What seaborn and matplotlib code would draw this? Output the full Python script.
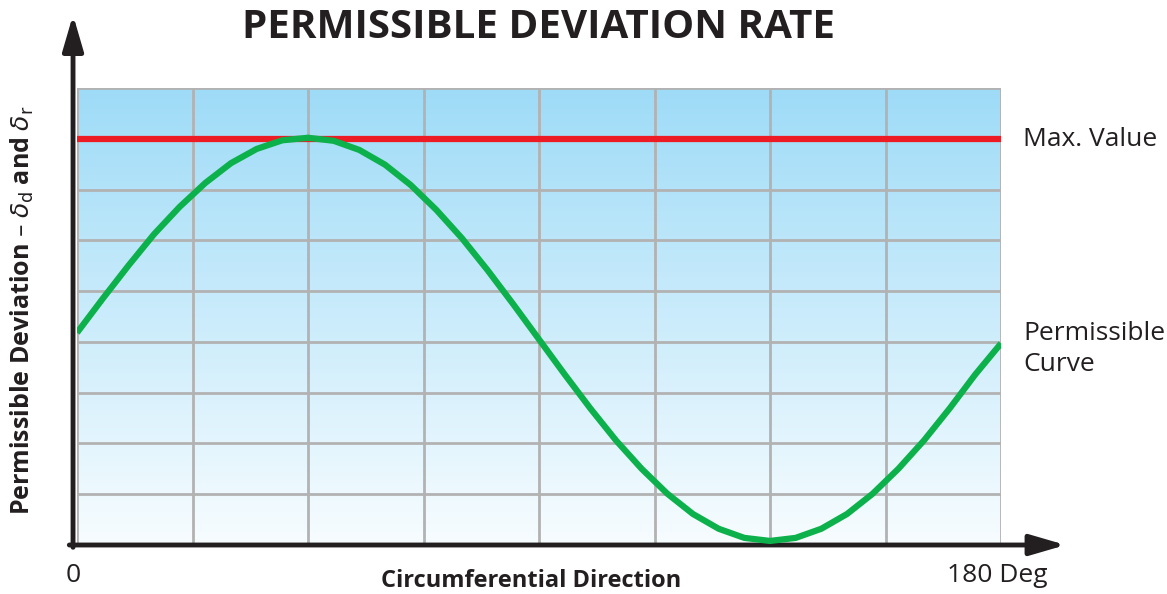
import numpy as np
import pandas as pd
import matplotlib.pyplot as plt
import seaborn as sns

# Values (x in degrees, y in grid units)
angle_deg = [0, 5, 10, 15, 20, 25, 30, 35, 40, 45, 50, 55, 60, 65, 70, 75, 80, 85, 90,
             95, 100, 105, 110, 115, 120, 125, 130, 135, 140, 145, 150, 155, 160, 165,
             170, 175, 180]
permissible = [4.18, 4.85, 5.50, 6.12, 6.66, 7.13, 7.52, 7.80, 7.97, 8.02, 7.96, 7.78,
               7.49, 7.09, 6.60, 6.04, 5.41, 4.74, 4.05, 3.36, 2.69, 2.06, 1.50, 1.01,
               0.61, 0.32, 0.14, 0.08, 0.14, 0.32, 0.61, 1.01, 1.50, 2.06, 2.69, 3.36,
               3.97]
max_value = 8.0
x_grid = [0, 22.5, 45, 67.5, 90, 112.5, 135, 157.5, 180]
y_grid = [0, 1, 2, 3, 4, 5, 6, 7, 8, 9]

df = pd.DataFrame({"angle": angle_deg, "dev": permissible})

sns.set_theme(style="white")
plt.rcParams["font.family"] = ["Open Sans", "DejaVu Sans"]
plt.rcParams["mathtext.fontset"] = "dejavusans"

fig = plt.figure(figsize=(11.67, 5.94), dpi=100)
ax = fig.add_axes([77 / 1167, 1 - 545 / 594, 924 / 1167, 457 / 594])

# gradient background
grad = np.linspace(0, 1, 256).reshape(-1, 1)
top = np.array([0.62, 0.86, 0.97])
bot = np.array([0.97, 0.99, 1.0])
img = bot + (top - bot) * grad
ax.imshow(img[:, None, :].repeat(2, axis=1), extent=[0, 181, 0, 9], origin="lower",
          aspect="auto", zorder=0)

for xv in x_grid:
    ax.axvline(xv, color="#b2b2b2", lw=2.0, zorder=1)
for yv in y_grid:
    ax.axhline(yv, color="#b2b2b2", lw=2.0, zorder=1)

ax.axhline(max_value, color="#ed1c24", lw=4.5, zorder=3)
sns.lineplot(data=df, x="angle", y="dev", color="#0db14b", lw=4.5, ax=ax, zorder=4,
             solid_joinstyle="round", solid_capstyle="butt")

ax.set_xlim(0, 180)
ax.set_ylim(0, 9)
ax.set_xticks([])
ax.set_yticks([])
ax.set_xlabel("")
ax.set_ylabel("")
for s in ax.spines.values():
    s.set_visible(False)

# axis arrows
arrow = dict(arrowstyle="-|>,head_length=1.2,head_width=0.35", color="#231f20", lw=3.5,
             mutation_scale=18, shrinkA=0, shrinkB=0)
ax.annotate("", xy=(-0.0043, 1.16), xytext=(-0.0043, -0.005), xycoords="axes fraction",
            arrowprops=arrow, annotation_clip=False)
ax.annotate("", xy=(1.07, 0.0), xytext=(-0.0083, 0.0), xycoords="axes fraction",
            arrowprops=arrow, annotation_clip=False)

fig.text(538 / 1167, 1 - 27 / 594, "PERMISSIBLE DEVIATION RATE", ha="center", va="center",
         fontsize=29, fontweight="bold", color="#231f20")
fig.text(22 / 1167, 1 - 310 / 594,
         r"Permissible Deviation – $\delta_\mathrm{d}$ and $\delta_\mathrm{r}$",
         rotation=90, ha="center", va="center", fontsize=18, fontweight="bold",
         color="#231f20")
fig.text(531 / 1167, 1 - 581 / 594, "Circumferential Direction", ha="center", va="center",
         fontsize=17, fontweight="bold", color="#231f20")
fig.text(73 / 1167, 1 - 576 / 594, "0", ha="center", va="center", fontsize=19,
         color="#231f20")
fig.text(997 / 1167, 1 - 575 / 594, "180 Deg", ha="center", va="center", fontsize=19,
         color="#231f20")
fig.text(1023 / 1167, 1 - 139 / 594, "Max. Value", ha="left", va="center", fontsize=19,
         color="#231f20")
fig.text(1023 / 1167, 1 - 349 / 594, "Permissible\nCurve", ha="left", va="center",
         fontsize=19, color="#231f20", linespacing=1.32)

fig.savefig("out.png", dpi=100)
